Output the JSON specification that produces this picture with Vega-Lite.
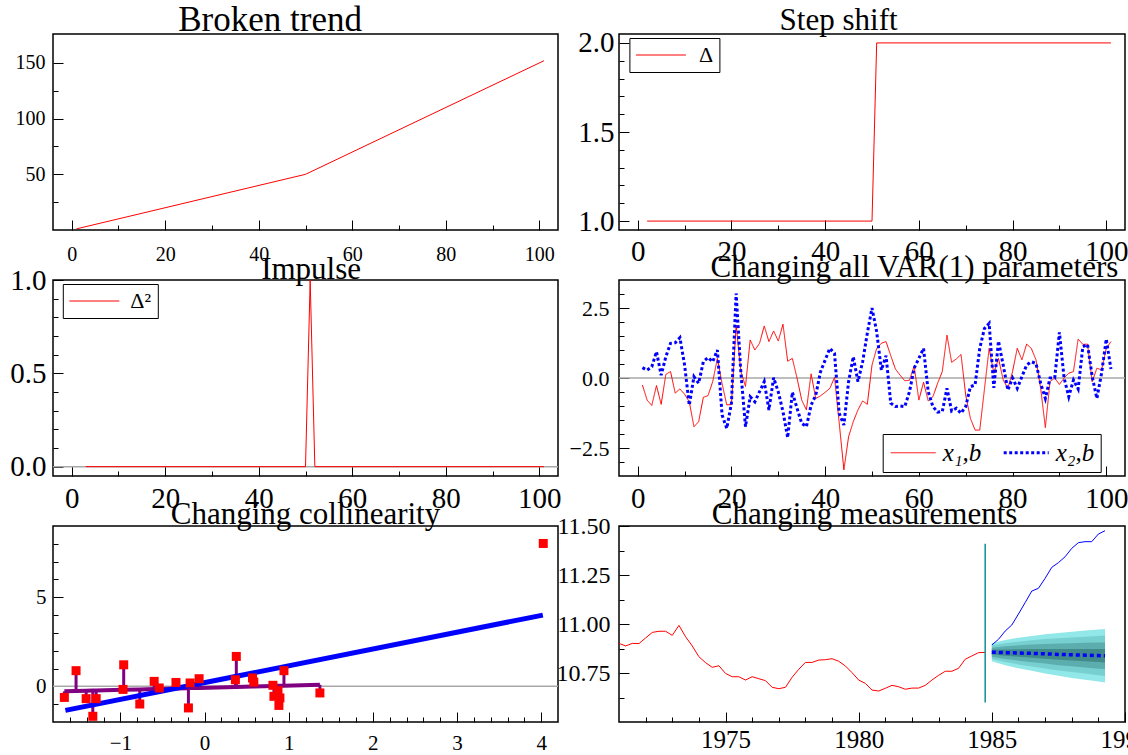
{
"$schema": "https://vega.github.io/schema/vega-lite/v6.json",
"background": "white",
"padding": {"left": 9, "top": 1, "right": 0, "bottom": 0},
"columns": 2,
"spacing": {"row": 50, "column": 61},
"bounds": "flush",
"resolve": {"scale": {"color": "independent", "strokeDash": "independent", "strokeWidth": "independent"}, "legend": {"color": "independent", "strokeDash": "independent", "strokeWidth": "independent"}},
"datasets": {
"trend": [{"t":1,"v":1},{"t":50,"v":50},{"t":101,"v":152}],
"step": [{"t":2,"v":1,"s":"Δ"},{"t":50,"v":1,"s":"Δ"},{"t":51,"v":2,"s":"Δ"},{"t":101,"v":2,"s":"Δ"}],
"impulse": [{"t":3,"v":0,"s":"Δ²"},{"t":50,"v":0,"s":"Δ²"},{"t":51,"v":1,"s":"Δ²"},{"t":52,"v":0,"s":"Δ²"},{"t":101,"v":0,"s":"Δ²"}],
"var": [
{"t":1,"s":"x1","v":-0.25},{"t":2,"s":"x1","v":-0.79},{"t":3,"s":"x1","v":-0.98},{"t":4,"s":"x1","v":-0.27},{"t":5,"s":"x1","v":-0.94},{"t":6,"s":"x1","v":0.13},{"t":7,"s":"x1","v":0.23},{"t":8,"s":"x1","v":-0.54},{"t":9,"s":"x1","v":-0.39},{"t":10,"s":"x1","v":-0.58},
{"t":11,"s":"x1","v":-0.85},{"t":12,"s":"x1","v":-1.74},{"t":13,"s":"x1","v":-1.56},{"t":14,"s":"x1","v":-0.69},{"t":15,"s":"x1","v":-0.63},{"t":16,"s":"x1","v":-0.13},{"t":17,"s":"x1","v":0.70},{"t":18,"s":"x1","v":-0.2},{"t":19,"s":"x1","v":-0.96},{"t":20,"s":"x1","v":-0.95},
{"t":21,"s":"x1","v":1.89},{"t":22,"s":"x1","v":0.25},{"t":23,"s":"x1","v":-0.3},{"t":24,"s":"x1","v":1.36},{"t":25,"s":"x1","v":1.0},{"t":26,"s":"x1","v":1.24},{"t":27,"s":"x1","v":1.86},{"t":28,"s":"x1","v":1.3},{"t":29,"s":"x1","v":1.68},{"t":30,"s":"x1","v":1.32},
{"t":31,"s":"x1","v":1.92},{"t":32,"s":"x1","v":0.6},{"t":33,"s":"x1","v":0.7},{"t":34,"s":"x1","v":0.0},{"t":35,"s":"x1","v":-0.79},{"t":36,"s":"x1","v":-1.14},{"t":37,"s":"x1","v":0.15},{"t":38,"s":"x1","v":-0.73},{"t":39,"s":"x1","v":-0.64},{"t":40,"s":"x1","v":-0.51},
{"t":41,"s":"x1","v":-0.37},{"t":42,"s":"x1","v":0.02},{"t":43,"s":"x1","v":-1.6},{"t":44,"s":"x1","v":-3.28},{"t":45,"s":"x1","v":-2.1},{"t":46,"s":"x1","v":-1.56},{"t":47,"s":"x1","v":-1.14},{"t":48,"s":"x1","v":-0.82},{"t":49,"s":"x1","v":-0.94},{"t":50,"s":"x1","v":0.46},
{"t":51,"s":"x1","v":1.06},{"t":52,"s":"x1","v":1.24},{"t":53,"s":"x1","v":1.3},{"t":54,"s":"x1","v":0.8},{"t":55,"s":"x1","v":0.32},{"t":56,"s":"x1","v":0.1},{"t":57,"s":"x1","v":-0.1},{"t":58,"s":"x1","v":-0.08},{"t":59,"s":"x1","v":0.43},{"t":60,"s":"x1","v":-0.79},
{"t":61,"s":"x1","v":-0.15},{"t":62,"s":"x1","v":-0.82},{"t":63,"s":"x1","v":-0.67},{"t":64,"s":"x1","v":-0.19},{"t":65,"s":"x1","v":0.23},{"t":66,"s":"x1","v":1.53},{"t":67,"s":"x1","v":0.56},{"t":68,"s":"x1","v":0.68},{"t":69,"s":"x1","v":0.84},{"t":70,"s":"x1","v":-0.61},
{"t":71,"s":"x1","v":-1.44},{"t":72,"s":"x1","v":-1.86},{"t":73,"s":"x1","v":-1.86},{"t":74,"s":"x1","v":-0.4},{"t":75,"s":"x1","v":1.06},{"t":76,"s":"x1","v":0.17},{"t":77,"s":"x1","v":0.7},{"t":78,"s":"x1","v":-0.07},{"t":79,"s":"x1","v":-0.37},{"t":80,"s":"x1","v":0.23},
{"t":81,"s":"x1","v":1.06},{"t":82,"s":"x1","v":0.65},{"t":83,"s":"x1","v":1.21},{"t":84,"s":"x1","v":1.06},{"t":85,"s":"x1","v":0.65},{"t":86,"s":"x1","v":-0.37},{"t":87,"s":"x1","v":-1.77},{"t":88,"s":"x1","v":-0.13},{"t":89,"s":"x1","v":0.0},{"t":90,"s":"x1","v":-0.23},
{"t":91,"s":"x1","v":0.0},{"t":92,"s":"x1","v":0.17},{"t":93,"s":"x1","v":0.23},{"t":94,"s":"x1","v":1.39},{"t":95,"s":"x1","v":1.2},{"t":96,"s":"x1","v":1.21},{"t":97,"s":"x1","v":-0.13},{"t":98,"s":"x1","v":0.35},{"t":99,"s":"x1","v":0.29},{"t":100,"s":"x1","v":1.06},
{"t":101,"s":"x1","v":1.3},
{"t":1,"s":"x2","v":0.37},{"t":2,"s":"x2","v":0.28},{"t":3,"s":"x2","v":0.4},{"t":4,"s":"x2","v":0.94},{"t":5,"s":"x2","v":0.1},{"t":6,"s":"x2","v":0.76},{"t":7,"s":"x2","v":1.24},{"t":8,"s":"x2","v":1.26},{"t":9,"s":"x2","v":1.44},{"t":10,"s":"x2","v":0.46},
{"t":11,"s":"x2","v":-0.97},{"t":12,"s":"x2","v":0.05},{"t":13,"s":"x2","v":-0.19},{"t":14,"s":"x2","v":0.58},{"t":15,"s":"x2","v":0.73},{"t":16,"s":"x2","v":0.58},{"t":17,"s":"x2","v":1.0},{"t":18,"s":"x2","v":-1.32},{"t":19,"s":"x2","v":-1.8},{"t":20,"s":"x2","v":-0.9},
{"t":21,"s":"x2","v":3.02},{"t":22,"s":"x2","v":0.22},{"t":23,"s":"x2","v":-1.74},{"t":24,"s":"x2","v":-0.67},{"t":25,"s":"x2","v":-0.85},{"t":26,"s":"x2","v":-0.49},{"t":27,"s":"x2","v":-0.13},{"t":28,"s":"x2","v":-1.14},{"t":29,"s":"x2","v":0.01},{"t":30,"s":"x2","v":-0.5},
{"t":31,"s":"x2","v":-1.2},{"t":32,"s":"x2","v":-2.13},{"t":33,"s":"x2","v":-0.51},{"t":34,"s":"x2","v":-1.08},{"t":35,"s":"x2","v":-1.62},{"t":36,"s":"x2","v":-1.74},{"t":37,"s":"x2","v":-0.97},{"t":38,"s":"x2","v":-0.61},{"t":39,"s":"x2","v":0.22},{"t":40,"s":"x2","v":0.64},
{"t":41,"s":"x2","v":1.06},{"t":42,"s":"x2","v":0.88},{"t":43,"s":"x2","v":-1.26},{"t":44,"s":"x2","v":-1.68},{"t":45,"s":"x2","v":-0.13},{"t":46,"s":"x2","v":0.76},{"t":47,"s":"x2","v":-0.13},{"t":48,"s":"x2","v":0.58},{"t":49,"s":"x2","v":1.6},{"t":50,"s":"x2","v":2.5},
{"t":51,"s":"x2","v":1.65},{"t":52,"s":"x2","v":0.28},{"t":53,"s":"x2","v":0.8},{"t":54,"s":"x2","v":-0.9},{"t":55,"s":"x2","v":-1.02},{"t":56,"s":"x2","v":-1.0},{"t":57,"s":"x2","v":-1.02},{"t":58,"s":"x2","v":-0.49},{"t":59,"s":"x2","v":0.35},{"t":60,"s":"x2","v":0.7},
{"t":61,"s":"x2","v":1.06},{"t":62,"s":"x2","v":-0.49},{"t":63,"s":"x2","v":-1.02},{"t":64,"s":"x2","v":-1.22},{"t":65,"s":"x2","v":-1.2},{"t":66,"s":"x2","v":-0.37},{"t":67,"s":"x2","v":-1.18},{"t":68,"s":"x2","v":-1.08},{"t":69,"s":"x2","v":-1.26},{"t":70,"s":"x2","v":-1.02},
{"t":71,"s":"x2","v":-0.31},{"t":72,"s":"x2","v":-0.25},{"t":73,"s":"x2","v":1.06},{"t":74,"s":"x2","v":1.77},{"t":75,"s":"x2","v":1.95},{"t":76,"s":"x2","v":-0.35},{"t":77,"s":"x2","v":1.32},{"t":78,"s":"x2","v":0.46},{"t":79,"s":"x2","v":-0.43},{"t":80,"s":"x2","v":0.0},
{"t":81,"s":"x2","v":-0.37},{"t":82,"s":"x2","v":0.05},{"t":83,"s":"x2","v":0.46},{"t":84,"s":"x2","v":0.58},{"t":85,"s":"x2","v":0.52},{"t":86,"s":"x2","v":-0.19},{"t":87,"s":"x2","v":-0.73},{"t":88,"s":"x2","v":0.0},{"t":89,"s":"x2","v":0.0},{"t":90,"s":"x2","v":1.63},
{"t":91,"s":"x2","v":0.0},{"t":92,"s":"x2","v":-0.67},{"t":93,"s":"x2","v":-0.07},{"t":94,"s":"x2","v":-0.39},{"t":95,"s":"x2","v":1.12},{"t":96,"s":"x2","v":1.2},{"t":97,"s":"x2","v":0.05},{"t":98,"s":"x2","v":-0.73},{"t":99,"s":"x2","v":0.17},{"t":100,"s":"x2","v":1.39},
{"t":101,"s":"x2","v":0.32}
],
"colpts": [
{"x":-1.665,"y":-0.62,"fit":-0.28},{"x":-1.526,"y":0.88,"fit":-0.263},{"x":-1.406,"y":-0.69,"fit":-0.248},{"x":-1.327,"y":-1.68,"fit":-0.239},{"x":-1.287,"y":-0.69,"fit":-0.234},
{"x":-0.960,"y":1.21,"fit":-0.194},{"x":-0.968,"y":-0.17,"fit":-0.195},{"x":-0.769,"y":-0.99,"fit":-0.171},{"x":-0.598,"y":0.28,"fit":-0.150},{"x":-0.538,"y":-0.09,"fit":-0.142},
{"x":-0.339,"y":0.22,"fit":-0.118},{"x":-0.191,"y":-1.21,"fit":-0.100},{"x":-0.171,"y":0.19,"fit":-0.098},{"x":-0.064,"y":0.43,"fit":-0.085},{"x":0.378,"y":1.68,"fit":-0.031},
{"x":0.367,"y":0.37,"fit":-0.032},{"x":0.57,"y":0.47,"fit":-0.007},{"x":0.586,"y":0.24,"fit":-0.005},{"x":0.813,"y":0.06,"fit":0.022},{"x":0.873,"y":-0.24,"fit":0.030},
{"x":0.825,"y":-0.56,"fit":0.024},{"x":0.896,"y":-0.65,"fit":0.032},{"x":0.884,"y":-1.07,"fit":0.031},{"x":0.944,"y":0.88,"fit":0.038},{"x":1.371,"y":-0.37,"fit":0.09},
{"x":4.025,"y":8.02}
],
"blueline": [{"x":-1.653,"y":-1.35},{"x":4.02,"y":4.0}],
"meas": [
{"t":1971.0,"v":10.901},{"t":1971.25,"v":10.888},{"t":1971.5,"v":10.901},{"t":1971.75,"v":10.900},
{"t":1972.0,"v":10.929},{"t":1972.25,"v":10.957},{"t":1972.5,"v":10.963},{"t":1972.75,"v":10.963},
{"t":1973.0,"v":10.942},{"t":1973.25,"v":10.993},{"t":1973.5,"v":10.935},{"t":1973.75,"v":10.888},
{"t":1974.0,"v":10.833},{"t":1974.25,"v":10.803},{"t":1974.5,"v":10.779},{"t":1974.75,"v":10.787},
{"t":1975.0,"v":10.748},{"t":1975.25,"v":10.731},{"t":1975.5,"v":10.731},{"t":1975.75,"v":10.714},
{"t":1976.0,"v":10.731},{"t":1976.25,"v":10.721},{"t":1976.5,"v":10.711},{"t":1976.75,"v":10.677},
{"t":1977.0,"v":10.670},{"t":1977.25,"v":10.677},{"t":1977.5,"v":10.728},{"t":1977.75,"v":10.769},
{"t":1978.0,"v":10.804},{"t":1978.25,"v":10.804},{"t":1978.5,"v":10.816},{"t":1978.75,"v":10.818},
{"t":1979.0,"v":10.823},{"t":1979.25,"v":10.810},{"t":1979.5,"v":10.786},{"t":1979.75,"v":10.752},
{"t":1980.0,"v":10.714},{"t":1980.25,"v":10.697},{"t":1980.5,"v":10.663},{"t":1980.75,"v":10.658},
{"t":1981.0,"v":10.672},{"t":1981.25,"v":10.687},{"t":1981.5,"v":10.680},{"t":1981.75,"v":10.667},
{"t":1982.0,"v":10.673},{"t":1982.25,"v":10.673},{"t":1982.5,"v":10.687},{"t":1982.75,"v":10.714},
{"t":1983.0,"v":10.738},{"t":1983.25,"v":10.759},{"t":1983.5,"v":10.759},{"t":1983.75,"v":10.774},
{"t":1984.0,"v":10.820},{"t":1984.25,"v":10.837},{"t":1984.5,"v":10.854},{"t":1984.75,"v":10.855}
],
"actual": [
{"t":1985.0,"v":10.893},{"t":1985.25,"v":10.922},{"t":1985.5,"v":10.964},{"t":1985.75,"v":10.995},
{"t":1986.0,"v":11.051},{"t":1986.25,"v":11.109},{"t":1986.5,"v":11.168},{"t":1986.75,"v":11.182},
{"t":1987.0,"v":11.233},{"t":1987.25,"v":11.289},{"t":1987.5,"v":11.313},{"t":1987.75,"v":11.343},
{"t":1988.0,"v":11.386},{"t":1988.25,"v":11.415},{"t":1988.5,"v":11.42},{"t":1988.75,"v":11.42},
{"t":1989.0,"v":11.459},{"t":1989.25,"v":11.476}
],
"fc": [{"t":1985.0,"c":10.856},{"t":1985.5,"c":10.854},{"t":1986.0,"c":10.852},{"t":1986.5,"c":10.850},{"t":1987.0,"c":10.848},{"t":1987.5,"c":10.845},{"t":1988.0,"c":10.843},{"t":1988.5,"c":10.841},{"t":1989.0,"c":10.839},{"t":1989.25,"c":10.838}],
"cut": [{"t":1984.75,"lo":10.60,"hi":11.41}],
"fan": [
{"b":1,"t":1985.0,"lo":10.810,"hi":10.902},{"b":1,"t":1985.5,"lo":10.790,"hi":10.918},{"b":1,"t":1986.0,"lo":10.774,"hi":10.930},{"b":1,"t":1986.5,"lo":10.761,"hi":10.939},{"b":1,"t":1987.0,"lo":10.748,"hi":10.948},{"b":1,"t":1987.5,"lo":10.736,"hi":10.954},{"b":1,"t":1988.0,"lo":10.725,"hi":10.961},{"b":1,"t":1988.5,"lo":10.715,"hi":10.967},{"b":1,"t":1989.0,"lo":10.706,"hi":10.972},{"b":1,"t":1989.25,"lo":10.701,"hi":10.975},
{"b":2,"t":1985.0,"lo":10.822,"hi":10.891},{"b":2,"t":1985.5,"lo":10.806,"hi":10.902},{"b":2,"t":1986.0,"lo":10.794,"hi":10.910},{"b":2,"t":1986.5,"lo":10.783,"hi":10.917},{"b":2,"t":1987.0,"lo":10.773,"hi":10.923},{"b":2,"t":1987.5,"lo":10.763,"hi":10.927},{"b":2,"t":1988.0,"lo":10.755,"hi":10.931},{"b":2,"t":1988.5,"lo":10.747,"hi":10.935},{"b":2,"t":1989.0,"lo":10.739,"hi":10.939},{"b":2,"t":1989.25,"lo":10.735,"hi":10.941},
{"b":3,"t":1985.0,"lo":10.833,"hi":10.879},{"b":3,"t":1985.5,"lo":10.822,"hi":10.886},{"b":3,"t":1986.0,"lo":10.813,"hi":10.891},{"b":3,"t":1986.5,"lo":10.805,"hi":10.895},{"b":3,"t":1987.0,"lo":10.798,"hi":10.898},{"b":3,"t":1987.5,"lo":10.790,"hi":10.900},{"b":3,"t":1988.0,"lo":10.784,"hi":10.902},{"b":3,"t":1988.5,"lo":10.778,"hi":10.904},{"b":3,"t":1989.0,"lo":10.772,"hi":10.906},{"b":3,"t":1989.25,"lo":10.770,"hi":10.906},
{"b":4,"t":1985.0,"lo":10.844,"hi":10.868},{"b":4,"t":1985.5,"lo":10.838,"hi":10.870},{"b":4,"t":1986.0,"lo":10.833,"hi":10.871},{"b":4,"t":1986.5,"lo":10.828,"hi":10.872},{"b":4,"t":1987.0,"lo":10.823,"hi":10.873},{"b":4,"t":1987.5,"lo":10.818,"hi":10.872},{"b":4,"t":1988.0,"lo":10.814,"hi":10.872},{"b":4,"t":1988.5,"lo":10.810,"hi":10.872},{"b":4,"t":1989.0,"lo":10.806,"hi":10.872},{"b":4,"t":1989.25,"lo":10.804,"hi":10.872}
]
},
"concat": [
{
"width": 505, "height": 196,
"title": {"text": "Broken trend", "fontSize": 35, "offset": -3.7, "dx": -35.4},
"data": {"name": "trend"},
"layer": [
{"mark": {"type": "line", "color": "#ff0000", "strokeWidth": 1},
 "encoding": {
  "x": {"field": "t", "type": "quantitative", "title": null, "scale": {"domain": [-4, 104], "nice": false, "zero": false}, "axis": {"orient": "bottom", "values": [0,20,40,60,80,100], "tickSize": -10, "labelPadding": 24.7, "labelFontSize": 20, "format": "d"}},
  "y": {"field": "v", "type": "quantitative", "title": null, "scale": {"domain": [0, 176], "nice": false, "zero": false}, "axis": {"orient": "left", "values": [50,100,150], "tickSize": -10, "labelPadding": 18, "labelFontSize": 20, "format": "d"}}
 }},
{"mark": {"type": "point", "opacity": 0},
 "encoding": {
  "x": {"field": "t", "type": "quantitative", "title": null, "scale": {"domain": [-4, 104], "nice": false, "zero": false}, "axis": {"orient": "bottom", "values": [10,30,50,70,90], "tickSize": -5, "labels": false}},
  "y": {"field": "v", "type": "quantitative", "title": null, "scale": {"domain": [0, 176], "nice": false, "zero": false}, "axis": {"orient": "left", "values": [25,75,125], "tickSize": -5, "labels": false}}
 }}
],
"resolve": {"axis": {"x": "independent", "y": "independent"}}
},
{
"width": 506, "height": 196,
"title": {"text": "Step shift", "fontSize": 31, "offset": -7.9, "dx": -33.4},
"data": {"name": "step"},
"layer": [
{"mark": {"type": "line", "strokeWidth": 1},
 "encoding": {
  "x": {"field": "t", "type": "quantitative", "title": null, "scale": {"domain": [-4, 104], "nice": false, "zero": false}, "axis": {"orient": "bottom", "values": [0,20,40,60,80,100], "tickSize": -10, "labelPadding": 17.4, "labelFontSize": 29, "format": "d"}},
  "y": {"field": "v", "type": "quantitative", "title": null, "scale": {"domain": [0.95, 2.05], "nice": false, "zero": false}, "axis": {"orient": "left", "values": [1,1.5,2], "tickSize": -10, "labelPadding": 15, "labelFontSize": 29, "format": ".1f"}},
  "color": {"field": "s", "type": "nominal", "scale": {"domain": ["Δ"], "range": ["#ff0000"]}, "legend": {"title": null, "orient": "none", "legendX": 10.4, "legendY": 4, "symbolType": "M-2.5,0H2.5", "symbolSize": 400, "symbolOffset": 14.5, "symbolStrokeWidth": 1, "labelFontSize": 22, "labelOffset": 27, "padding": 6, "strokeColor": "#000000", "fillColor": "#ffffff"}}
 }},
{"mark": {"type": "point", "opacity": 0},
 "encoding": {
  "x": {"field": "t", "type": "quantitative", "title": null, "scale": {"domain": [-4, 104], "nice": false, "zero": false}, "axis": {"orient": "bottom", "values": [10,30,50,70,90], "tickSize": -5, "labels": false}},
  "y": {"field": "v", "type": "quantitative", "title": null, "scale": {"domain": [0.95, 2.05], "nice": false, "zero": false}, "axis": {"orient": "left", "values": [1.1,1.2,1.3,1.4,1.6,1.7,1.8,1.9], "tickSize": -5, "labels": false}}
 }}
],
"resolve": {"axis": {"x": "independent", "y": "independent"}}
},
{
"width": 505, "height": 196,
"title": {"text": "Impulse", "fontSize": 31, "offset": -19.8, "dx": 5.6},
"data": {"name": "impulse"},
"layer": [
{"data": {"values": [{}]},
 "mark": {"type": "rule", "color": "#a8a8a8", "strokeWidth": 1.5},
 "encoding": {"y": {"datum": 0, "type": "quantitative", "scale": {"domain": [-0.05, 1.0], "nice": false, "zero": false}, "axis": null}}},
{"mark": {"type": "line", "strokeWidth": 1},
 "encoding": {
  "x": {"field": "t", "type": "quantitative", "title": null, "scale": {"domain": [-4, 104], "nice": false, "zero": false}, "axis": {"orient": "bottom", "values": [0,20,40,60,80,100], "tickSize": -10, "labelPadding": 18, "labelFontSize": 29, "format": "d"}},
  "y": {"field": "v", "type": "quantitative", "title": null, "scale": {"domain": [-0.05, 1.0], "nice": false, "zero": false}, "axis": {"orient": "left", "values": [0,0.5,1], "tickSize": -10, "labelPadding": 17, "labelFontSize": 29, "format": ".1f"}},
  "color": {"field": "s", "type": "nominal", "scale": {"domain": ["Δ²"], "range": ["#ff0000"]}, "legend": {"title": null, "orient": "none", "legendX": 9.8, "legendY": 4, "symbolType": "M-2.5,0H2.5", "symbolSize": 400, "symbolOffset": 14.5, "symbolStrokeWidth": 1, "labelFontSize": 22, "labelOffset": 25, "padding": 6, "strokeColor": "#000000", "fillColor": "#ffffff"}}
 }},
{"mark": {"type": "point", "opacity": 0},
 "encoding": {
  "x": {"field": "t", "type": "quantitative", "title": null, "scale": {"domain": [-4, 104], "nice": false, "zero": false}, "axis": {"orient": "bottom", "values": [10,30,50,70,90], "tickSize": -5, "labels": false}},
  "y": {"field": "v", "type": "quantitative", "title": null, "scale": {"domain": [-0.05, 1.0], "nice": false, "zero": false}, "axis": {"orient": "left", "values": [0.1,0.2,0.3,0.4,0.6,0.7,0.8,0.9], "tickSize": -5, "labels": false}}
 }}
],
"resolve": {"axis": {"x": "independent", "y": "independent"}}
},
{
"width": 506, "height": 196,
"title": {"text": "Changing all VAR(1) parameters", "fontSize": 31, "offset": -4.2, "dx": 42.4},
"data": {"name": "var"},
"layer": [
{"data": {"values": [{}]},
 "mark": {"type": "rule", "color": "#a8a8a8", "strokeWidth": 1.5},
 "encoding": {"y": {"datum": 0, "type": "quantitative", "scale": {"domain": [-3.5, 3.5], "nice": false, "zero": false}, "axis": null}}},
{"mark": {"type": "line"},
 "encoding": {
  "x": {"field": "t", "type": "quantitative", "title": null, "scale": {"domain": [-4, 104], "nice": false, "zero": false}, "axis": {"orient": "bottom", "values": [0,20,40,60,80,100], "tickSize": -10, "labelPadding": 18, "labelFontSize": 29, "format": "d"}},
  "y": {"field": "v", "type": "quantitative", "title": null, "scale": {"domain": [-3.5, 3.5], "nice": false, "zero": false}, "axis": {"orient": "left", "values": [-2.5,0,2.5], "tickSize": -10, "labelPadding": 20, "labelFontSize": 22, "format": ".1f"}},
  "color": {"field": "s", "type": "nominal", "scale": {"domain": ["x1","x2"], "range": ["#ff0000","#0000ff"]}, "legend": {"title": null, "orient": "none", "legendX": 263.7, "legendY": 154, "direction": "horizontal", "symbolType": "M-2.25,0H2.25", "symbolSize": 400, "symbolOffset": 12, "labelFontSize": 25, "labelFontStyle": "italic", "labelOffset": 17, "columnPadding": 16, "padding": 6, "strokeColor": "#000000", "fillColor": "#ffffff", "labelExpr": "datum.label == 'x1' ? 'x₁,b' : 'x₂,b'"}},
  "strokeDash": {"field": "s", "type": "nominal", "scale": {"domain": ["x1","x2"], "range": [[1,0],[3,2.5]]}},
  "strokeWidth": {"field": "s", "type": "ordinal", "scale": {"domain": ["x1","x2"], "range": [1,3]}}
 }},
{"mark": {"type": "point", "opacity": 0},
 "encoding": {
  "x": {"field": "t", "type": "quantitative", "title": null, "scale": {"domain": [-4, 104], "nice": false, "zero": false}, "axis": {"orient": "bottom", "values": [10,30,50,70,90], "tickSize": -5, "labels": false}},
  "y": {"field": "v", "type": "quantitative", "title": null, "scale": {"domain": [-3.5, 3.5], "nice": false, "zero": false}, "axis": {"orient": "left", "values": [-3,-2,-1.5,-1,-0.5,0.5,1,1.5,2,3], "tickSize": -5, "labels": false}}
 }}
],
"resolve": {"axis": {"x": "independent", "y": "independent"}}
},
{
"width": 505, "height": 196,
"title": {"text": "Changing collinearity", "fontSize": 31, "offset": -5.1, "dx": 0},
"data": {"name": "colpts"},
"layer": [
{"data": {"values": [{}]},
 "mark": {"type": "rule", "color": "#a8a8a8", "strokeWidth": 1.5},
 "encoding": {"y": {"datum": 0, "type": "quantitative", "scale": {"domain": [-2, 9], "nice": false, "zero": false}, "axis": null}}},
{"transform": [{"filter": "isValid(datum.fit)"}],
 "mark": {"type": "rule", "color": "#800080", "strokeWidth": 3},
 "encoding": {
  "x": {"field": "x", "type": "quantitative", "scale": {"domain": [-1.8, 4.2], "nice": false, "zero": false}, "axis": null},
  "y": {"field": "y", "type": "quantitative", "scale": {"domain": [-2, 9], "nice": false, "zero": false}, "axis": null},
  "y2": {"field": "fit"}
 }},
{"transform": [{"filter": "isValid(datum.fit)"}],
 "mark": {"type": "line", "color": "#800080", "strokeWidth": 4},
 "encoding": {
  "x": {"field": "x", "type": "quantitative", "scale": {"domain": [-1.8, 4.2], "nice": false, "zero": false}, "axis": null},
  "y": {"field": "fit", "type": "quantitative", "scale": {"domain": [-2, 9], "nice": false, "zero": false}, "axis": null}
 }},
{"data": {"name": "blueline"},
 "mark": {"type": "line", "color": "#0000ff", "strokeWidth": 5},
 "encoding": {
  "x": {"field": "x", "type": "quantitative", "scale": {"domain": [-1.8, 4.2], "nice": false, "zero": false}, "axis": null},
  "y": {"field": "y", "type": "quantitative", "scale": {"domain": [-2, 9], "nice": false, "zero": false}, "axis": null}
 }},
{"mark": {"type": "square", "color": "#ff0000", "filled": true, "opacity": 1, "size": 81},
 "encoding": {
  "x": {"field": "x", "type": "quantitative", "title": null, "scale": {"domain": [-1.8, 4.2], "nice": false, "zero": false}, "axis": {"orient": "bottom", "values": [-1,0,1,2,3,4], "tickSize": -10, "labelPadding": 20.9, "labelFontSize": 21, "format": "d"}},
  "y": {"field": "y", "type": "quantitative", "title": null, "scale": {"domain": [-2, 9], "nice": false, "zero": false}, "axis": {"orient": "left", "values": [0,5], "tickSize": -10, "labelPadding": 17, "labelFontSize": 21, "format": "d"}}
 }},
{"mark": {"type": "point", "opacity": 0},
 "encoding": {
  "x": {"field": "x", "type": "quantitative", "title": null, "scale": {"domain": [-1.8, 4.2], "nice": false, "zero": false}, "axis": {"orient": "bottom", "values": [-1.6,-1.4,-1.2,-0.8,-0.6,-0.4,-0.2,0.2,0.4,0.6,0.8,1.2,1.4,1.6,1.8,2.2,2.4,2.6,2.8,3.2,3.4,3.6,3.8], "tickSize": -5, "labels": false}},
  "y": {"field": "y", "type": "quantitative", "title": null, "scale": {"domain": [-2, 9], "nice": false, "zero": false}, "axis": {"orient": "left", "values": [-1,1,2,3,4,6,7,8], "tickSize": -5, "labels": false}}
 }}
],
"resolve": {"axis": {"x": "independent", "y": "independent"}}
},
{
"width": 506, "height": 196,
"title": {"text": "Changing measurements", "fontSize": 31, "offset": -16.8, "dx": -7.4},
"layer": [
{"data": {"name": "fan"}, "transform": [{"filter": "datum.b == 1"}],
 "mark": {"type": "area", "color": "#92e8e8", "opacity": 1},
 "encoding": {
  "x": {"field": "t", "type": "quantitative", "scale": {"domain": [1971, 1990], "nice": false, "zero": false}, "axis": null},
  "y": {"field": "lo", "type": "quantitative", "scale": {"domain": [10.5, 11.5], "nice": false, "zero": false}, "axis": null},
  "y2": {"field": "hi"}
 }},
{"data": {"name": "fan"}, "transform": [{"filter": "datum.b == 2"}],
 "mark": {"type": "area", "color": "#78cfcf", "opacity": 1},
 "encoding": {
  "x": {"field": "t", "type": "quantitative", "scale": {"domain": [1971, 1990], "nice": false, "zero": false}, "axis": null},
  "y": {"field": "lo", "type": "quantitative", "scale": {"domain": [10.5, 11.5], "nice": false, "zero": false}, "axis": null},
  "y2": {"field": "hi"}
 }},
{"data": {"name": "fan"}, "transform": [{"filter": "datum.b == 3"}],
 "mark": {"type": "area", "color": "#5caeae", "opacity": 1},
 "encoding": {
  "x": {"field": "t", "type": "quantitative", "scale": {"domain": [1971, 1990], "nice": false, "zero": false}, "axis": null},
  "y": {"field": "lo", "type": "quantitative", "scale": {"domain": [10.5, 11.5], "nice": false, "zero": false}, "axis": null},
  "y2": {"field": "hi"}
 }},
{"data": {"name": "fan"}, "transform": [{"filter": "datum.b == 4"}],
 "mark": {"type": "area", "color": "#428a8a", "opacity": 1},
 "encoding": {
  "x": {"field": "t", "type": "quantitative", "scale": {"domain": [1971, 1990], "nice": false, "zero": false}, "axis": null},
  "y": {"field": "lo", "type": "quantitative", "scale": {"domain": [10.5, 11.5], "nice": false, "zero": false}, "axis": null},
  "y2": {"field": "hi"}
 }},
{"data": {"name": "meas"},
 "mark": {"type": "line", "color": "#ff0000", "strokeWidth": 1},
 "encoding": {
  "x": {"field": "t", "type": "quantitative", "title": null, "scale": {"domain": [1971, 1990], "nice": false, "zero": false}, "axis": {"orient": "bottom", "values": [1975,1980,1985,1990], "tickSize": -10, "labelPadding": 15.5, "labelFontSize": 25, "format": "d"}},
  "y": {"field": "v", "type": "quantitative", "title": null, "scale": {"domain": [10.5, 11.5], "nice": false, "zero": false}, "axis": {"orient": "left", "values": [10.75,11,11.25,11.5], "tickSize": -10, "labelPadding": 19, "labelFontSize": 24, "format": ".2f"}}
 }},
{"data": {"name": "cut"},
 "mark": {"type": "rule", "color": "#109090", "strokeWidth": 1.5},
 "encoding": {
  "x": {"field": "t", "type": "quantitative", "scale": {"domain": [1971, 1990], "nice": false, "zero": false}, "axis": null},
  "y": {"field": "lo", "type": "quantitative", "scale": {"domain": [10.5, 11.5], "nice": false, "zero": false}, "axis": null},
  "y2": {"field": "hi"}
 }},
{"data": {"name": "fc"},
 "mark": {"type": "line", "color": "#0000ff", "strokeWidth": 3.5, "strokeDash": [4, 3]},
 "encoding": {
  "x": {"field": "t", "type": "quantitative", "scale": {"domain": [1971, 1990], "nice": false, "zero": false}, "axis": null},
  "y": {"field": "c", "type": "quantitative", "scale": {"domain": [10.5, 11.5], "nice": false, "zero": false}, "axis": null}
 }},
{"data": {"name": "actual"},
 "mark": {"type": "line", "color": "#0000ff", "strokeWidth": 1},
 "encoding": {
  "x": {"field": "t", "type": "quantitative", "scale": {"domain": [1971, 1990], "nice": false, "zero": false}, "axis": null},
  "y": {"field": "v", "type": "quantitative", "scale": {"domain": [10.5, 11.5], "nice": false, "zero": false}, "axis": null}
 }},
{"data": {"name": "meas"},
 "mark": {"type": "point", "opacity": 0},
 "encoding": {
  "x": {"field": "t", "type": "quantitative", "title": null, "scale": {"domain": [1971, 1990], "nice": false, "zero": false}, "axis": {"orient": "bottom", "values": [1972,1973,1974,1976,1977,1978,1979,1981,1982,1983,1984,1986,1987,1988,1989], "tickSize": -5, "labels": false}},
  "y": {"field": "v", "type": "quantitative", "title": null, "scale": {"domain": [10.5, 11.5], "nice": false, "zero": false}, "axis": {"orient": "left", "values": [10.625,10.875,11.125,11.375], "tickSize": -5, "labels": false}}
 }}
],
"resolve": {"axis": {"x": "independent", "y": "independent"}}
}
],
"config": {
 "font": "Liberation Serif",
 "view": {"stroke": "#000000", "strokeWidth": 1.5},
 "axis": {"grid": false, "domain": false, "ticks": true, "tickColor": "#000000", "tickWidth": 1, "labelColor": "#000000", "labelFont": "Liberation Serif", "labelFlush": false, "labelOverlap": false},
 "title": {"font": "Liberation Serif", "fontWeight": "normal", "color": "#000000", "baseline": "alphabetic", "frame": "group", "anchor": "middle"},
 "legend": {"labelFont": "Liberation Serif", "labelColor": "#000000"}
}
}
